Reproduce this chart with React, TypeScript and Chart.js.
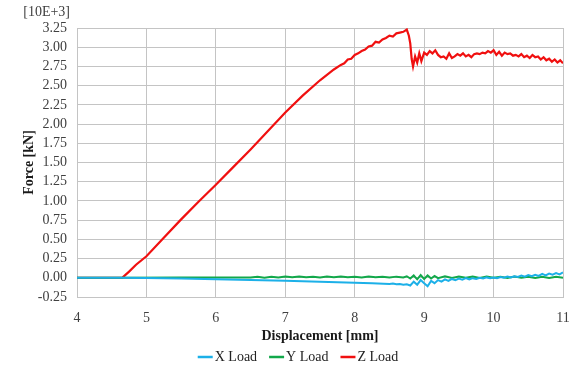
import React, { useEffect, useRef } from "react";
import { Chart, registerables } from "chart.js";

Chart.register(...registerables);

// Z Load (red)
const zDisp = [
  4.0, 4.65, 4.75, 4.85, 5.0, 5.25, 5.5, 5.75, 6.0, 6.25, 6.5, 6.75, 7.0, 7.25, 7.5, 7.7, 7.8, 7.85, 7.9, 7.95,
  8.0, 8.05, 8.1, 8.15, 8.2, 8.25, 8.3, 8.35, 8.4, 8.45, 8.5, 8.55, 8.6, 8.65, 8.7, 8.75, 8.78, 8.8, 8.82, 8.84,
  8.87, 8.9, 8.93, 8.96, 9.0, 9.04, 9.08, 9.12, 9.16, 9.2, 9.24, 9.28, 9.32, 9.36, 9.4, 9.44, 9.48, 9.52, 9.56, 9.6,
  9.64, 9.68, 9.72, 9.76, 9.8, 9.84, 9.88, 9.92, 9.96, 10.0, 10.04, 10.08, 10.12, 10.16, 10.2, 10.24, 10.28, 10.32,
  10.36, 10.4, 10.44, 10.48, 10.52, 10.56, 10.6, 10.64, 10.68, 10.72, 10.76, 10.8, 10.84, 10.88, 10.92, 10.96, 11.0,
];
const zLoad = [
  0, 0, 0.08, 0.17, 0.28, 0.52, 0.76, 0.99, 1.21, 1.44, 1.67, 1.91, 2.15, 2.37, 2.57, 2.71, 2.77, 2.79, 2.84, 2.85,
  2.9, 2.92, 2.95, 2.97, 3.01, 3.02, 3.07, 3.06, 3.1, 3.12, 3.15, 3.14, 3.18, 3.19, 3.2, 3.23, 3.15, 3.05, 2.85, 2.75,
  2.88, 2.8, 2.92, 2.82, 2.93, 2.9, 2.95, 2.92, 2.96, 2.9, 2.87, 2.88, 2.85, 2.92, 2.86, 2.88, 2.91, 2.89, 2.92, 2.88,
  2.9, 2.87, 2.91, 2.92, 2.91, 2.93, 2.92, 2.95, 2.93, 2.96, 2.9, 2.94, 2.89, 2.93, 2.91, 2.92, 2.89,
  2.9, 2.88, 2.91, 2.87, 2.89, 2.86, 2.9, 2.87, 2.88, 2.84, 2.87, 2.83, 2.85, 2.81, 2.84, 2.8, 2.83, 2.79,
];

// X Load (blue)
const xDisp = [
  4.0, 4.65, 5.0, 5.5, 6.0, 6.5, 7.0, 7.5, 8.0, 8.25, 8.5, 8.55, 8.6, 8.65, 8.7, 8.75, 8.8, 8.85, 8.9, 8.95,
  9.0, 9.05, 9.1, 9.15, 9.2, 9.25, 9.3, 9.35, 9.4, 9.45, 9.5, 9.55, 9.6, 9.65, 9.7, 9.75, 9.8, 9.85, 9.9, 9.95,
  10.0, 10.05, 10.1, 10.15, 10.2, 10.25, 10.3, 10.35, 10.4, 10.45, 10.5, 10.55, 10.6, 10.65, 10.7, 10.75, 10.8,
  10.85, 10.9, 10.95, 11.0,
];
const xLoad = [
  0, 0, -0.004, -0.01, -0.018, -0.028, -0.04, -0.052, -0.065, -0.07, -0.08, -0.075, -0.085, -0.08, -0.09, -0.085,
  -0.1, -0.05, -0.09, -0.03, -0.07, -0.11, -0.04, -0.07, -0.03, -0.05, -0.02, -0.04, -0.015, -0.03, -0.01, -0.025,
  -0.005, -0.02, -0.005, -0.015, 0.0, -0.01, 0.005, -0.005, 0.005, -0.005, 0.01, 0.0, 0.015, 0.005, 0.02, 0.01,
  0.03, 0.015, 0.035, 0.02, 0.04, 0.025, 0.05, 0.03, 0.055, 0.04, 0.06, 0.045, 0.07,
];

// Y Load (green)
const yDisp = [
  4.0, 4.65, 5.5, 6.5, 6.6, 6.7, 6.8, 6.9, 7.0, 7.1, 7.2, 7.3, 7.4, 7.5, 7.6, 7.7, 7.8, 7.9, 8.0, 8.1, 8.2, 8.3,
  8.4, 8.5, 8.6, 8.7, 8.75, 8.8, 8.85, 8.9, 8.95, 9.0, 9.05, 9.1, 9.15, 9.2, 9.3, 9.4, 9.5, 9.6, 9.7, 9.8, 9.9,
  10.0, 10.1, 10.2, 10.3, 10.4, 10.5, 10.6, 10.7, 10.8, 10.9, 11.0,
];
const yLoad = [
  0, 0, 0.003, 0.005, 0.012, 0.002, 0.014, 0.004, 0.016, 0.006, 0.018, 0.008, 0.015, 0.005, 0.017, 0.007, 0.016,
  0.006, 0.015, 0.004, 0.016, 0.006, 0.014, 0.003, 0.015, 0.005, 0.02, -0.01, 0.03, -0.02, 0.035, -0.015, 0.03,
  -0.01, 0.025, -0.005, 0.02, -0.003, 0.018, 0.0, 0.016, -0.002, 0.015, 0.0, 0.014, -0.002, 0.015, 0.0, 0.014,
  -0.002, 0.013, -0.003, 0.012, 0.0,
];

const seriesNames = ["X Load", "Y Load", "Z Load"];
const seriesColors = ["#1cb0e8", "#12a84a", "#f01010"];
const xTicks = [4, 5, 6, 7, 8, 9, 10, 11];
const yMin = -0.25;
const yMax = 3.25;
const yStep = 0.25;
const yUnitLabel = "[10E+3]";
const xTitle = "Displacement [mm]";
const yTitle = "Force [kN]";

const FONT = "'Liberation Serif', 'Times New Roman', serif";

const toPts = (xs: number[], ys: number[]) => xs.map((x, i) => ({ x, y: ys[i] }));

export default function App() {
  const ref = useRef<HTMLCanvasElement | null>(null);

  useEffect(() => {
    document.body.style.margin = "0";
    const canvas = ref.current;
    if (!canvas) return;

    const extrasPlugin = {
      id: "extras",
      afterDraw(chart: any) {
        const ctx = chart.ctx;
        ctx.save();
        // unit label above the y axis
        ctx.font = `14px ${FONT}`;
        ctx.fillStyle = "#404040";
        ctx.textAlign = "right";
        ctx.textBaseline = "middle";
        ctx.fillText(yUnitLabel, 70, 12);

        // legend
        const lineLen = 15;
        const gapText = 2;
        const gapItem = 12;
        const widths = seriesNames.map((n) => lineLen + gapText + ctx.measureText(n).width);
        const total = widths.reduce((a, b) => a + b, 0) + gapItem * (widths.length - 1);
        let x = 298 - total / 2;
        const y = 357;
        ctx.textAlign = "left";
        ctx.fillStyle = "#222";
        seriesNames.forEach((n, i) => {
          ctx.strokeStyle = seriesColors[i];
          ctx.lineWidth = 2.5;
          ctx.beginPath();
          ctx.moveTo(x, y);
          ctx.lineTo(x + lineLen, y);
          ctx.stroke();
          ctx.fillText(n, x + lineLen + gapText, y);
          x += widths[i] + gapItem;
        });
        ctx.restore();
      },
    };

    const chart = new Chart(canvas, {
      type: "line",
      data: {
        datasets: seriesNames.map((name, i) => ({
          label: name,
          data: [toPts(xDisp, xLoad), toPts(yDisp, yLoad), toPts(zDisp, zLoad)][i],
          borderColor: seriesColors[i],
          backgroundColor: seriesColors[i],
          borderWidth: i === 2 ? 2.2 : 2,
          pointRadius: 0,
          tension: 0,
        })),
      },
      options: {
        animation: false,
        responsive: false,
        devicePixelRatio: 1,
        layout: { padding: { top: 28, right: 10, bottom: 25, left: 0 } },
        plugins: {
          tooltip: { enabled: false },
          legend: { display: false },
        },
        scales: {
          x: {
            type: "linear",
            min: 4,
            max: 11,
            afterBuildTicks: (scale: any) => {
              scale.ticks = xTicks.map((v) => ({ value: v }));
            },
            grid: { color: "#c4c4c4", drawTicks: false },
            border: { color: "#c4c4c4" },
            ticks: {
              padding: 13,
              color: "#404040",
              font: { family: FONT, size: 14 },
            },
            title: {
              display: true,
              text: xTitle,
              color: "#1a1a1a",
              font: { family: FONT, size: 14, weight: "bold" },
              padding: { top: 0, bottom: 0 },
            },
            afterFit: (scale: any) => {
              scale.height = 48;
              scale.paddingRight = 0;
              scale.paddingLeft = 0;
            },
          },
          y: {
            type: "linear",
            min: yMin,
            max: yMax,
            ticks: {
              stepSize: yStep,
              autoSkip: false,
              padding: 10,
              color: "#404040",
              font: { family: FONT, size: 14 },
              callback: (v: any) => Number(v).toFixed(2),
            },
            grid: { color: "#c4c4c4", drawTicks: false },
            border: { color: "#c4c4c4" },
            title: {
              display: true,
              text: yTitle,
              color: "#1a1a1a",
              font: { family: FONT, size: 14, weight: "bold" },
              padding: { top: 21, bottom: 0 },
            },
            afterFit: (scale: any) => {
              scale.width = 77;
            },
          },
        },
      },
      plugins: [extrasPlugin],
    } as any);

    return () => chart.destroy();
  }, []);

  return <canvas ref={ref} width={573} height={370} style={{ display: "block" }} />;
}
